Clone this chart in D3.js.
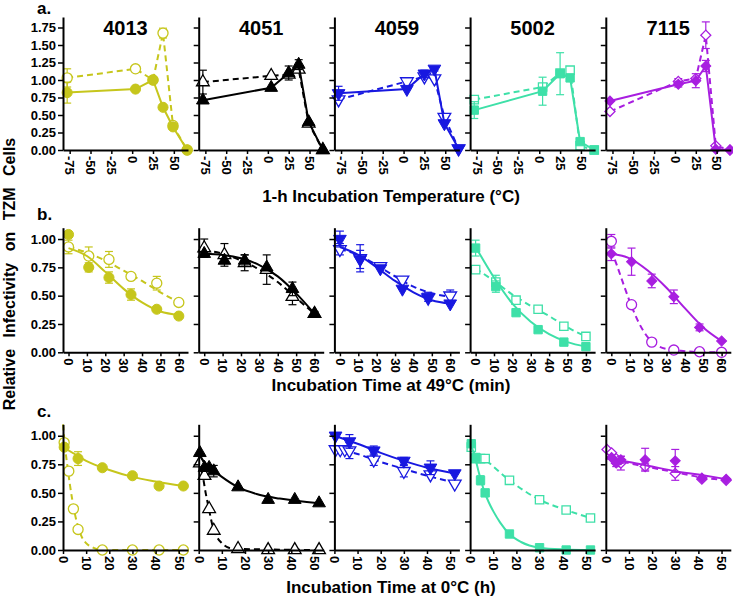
<!DOCTYPE html>
<html><head><meta charset="utf-8">
<script src="https://cdnjs.cloudflare.com/ajax/libs/d3/7.8.5/d3.min.js"></script>
<style>
body{margin:0;background:#fff}
text{font-family:"Liberation Sans",Arial,sans-serif;font-weight:bold;fill:#000}
</style>
</head><body>
<svg id="chart" width="733" height="599"></svg>
<script>
// ---------- DATA ----------
const strains = ["4013", "4051", "4059", "5002", "7115"];

// Row a: 1-h incubation temperature
const tempC = [-78, 4, 25, 37, 49, 66];
const tempTicks = [-75, -50, -25, 0, 25, 50];
const tempYTicks = [0, 0.25, 0.5, 0.75, 1, 1.25, 1.5, 1.75];
const tempFilled = [
  [0.82, 0.87, 1.00, 0.61, 0.33, 0.00],
  [0.71, 0.89, 1.10, 1.22, 0.40, 0.00],
  [0.81, 0.87, 1.09, 1.16, 0.38, 0.02],
  [0.57, 0.84, 1.09, 1.03, 0.12, 0.00],
  [0.70, 0.94, 0.99, 1.20, 0.01, 0.00]
];
const tempFilledErr = [
  [0.15, 0, 0.04, 0, 0, 0],
  [0, 0, 0.10, 0.07, 0, 0],
  [0.10, 0, 0.05, 0.03, 0, 0],
  [0.12, 0.20, 0.30, 0, 0, 0],
  [0, 0.04, 0.10, 0.08, 0, 0]
];
const tempOpen = [
  [1.03, 1.16, 1.00, 1.67, 0.35, 0.00],
  [0.97, 1.06, 1.08, 1.15, 0.38, 0.00],
  [0.72, 0.98, 1.05, 1.02, 0.47, 0.02],
  [0.72, 0.90, 1.10, 1.14, 0.06, 0.00],
  [0.55, 0.98, 1.02, 1.64, 0.06, 0.00]
];
const tempOpenErr = [
  [0.13, 0.02, 0, 0.07, 0, 0],
  [0.17, 0, 0, 0, 0, 0],
  [0, 0.05, 0, 0, 0, 0],
  [0.05, 0, 0, 0.05, 0, 0],
  [0, 0.04, 0, 0.19, 0, 0]
];

// Row b: incubation time at 49 °C (min)
const heatMin = [0, 11, 22, 34, 48, 60];
const heatTicks = [0, 10, 20, 30, 40, 50, 60];
const unitYTicks = [0, 0.25, 0.5, 0.75, 1];
const heatFilled = [
  [1.04, 0.75, 0.66, 0.51, 0.38, 0.32],
  [0.87, 0.81, 0.81, 0.75, 0.56, 0.34],
  [1.00, 0.82, 0.74, 0.56, 0.49, 0.43],
  [0.92, 0.58, 0.35, 0.20, 0.09, 0.05],
  [0.87, 0.80, 0.63, 0.49, 0.22, 0.10]
];
const heatFilledErr = [
  [0, 0.04, 0.05, 0.05, 0, 0],
  [0, 0, 0.05, 0, 0.06, 0],
  [0.07, 0.08, 0, 0, 0.04, 0],
  [0.07, 0.05, 0, 0, 0, 0],
  [0.06, 0.12, 0.06, 0.06, 0.03, 0]
];
const heatOpen = [
  [0.93, 0.85, 0.82, 0.67, 0.61, 0.44],
  [0.92, 0.86, 0.79, 0.73, 0.49, 0.34],
  [0.91, 0.83, 0.76, 0.64, 0.48, 0.50],
  [0.73, 0.62, 0.46, 0.38, 0.23, 0.14],
  [0.98, 0.42, 0.09, 0.02, 0.005, 0.00]
];
const heatOpenErr = [
  [0.06, 0.08, 0.07, 0, 0.06, 0],
  [0.08, 0.10, 0.07, 0.13, 0.07, 0.02],
  [0.05, 0.12, 0, 0, 0, 0.05],
  [0.03, 0.06, 0, 0, 0, 0],
  [0.06, 0, 0, 0, 0, 0]
];
const heatFilledFit = [
  [[0,0.92],[10,0.85],[20,0.71],[30,0.56],[40,0.44],[50,0.36],[60,0.33]],
  [[0,0.87],[10,0.86],[20,0.83],[30,0.77],[40,0.67],[50,0.52],[60,0.34]],
  [[0,0.93],[10,0.86],[20,0.75],[30,0.63],[40,0.53],[50,0.46],[60,0.43]],
  [[0,0.93],[10,0.66],[20,0.43],[30,0.27],[40,0.16],[50,0.09],[60,0.05]],
  [[0,0.87],[10,0.83],[20,0.72],[30,0.57],[40,0.39],[50,0.22],[60,0.10]]
];
const heatOpenFit = [
  [[0,0.93],[10,0.88],[20,0.81],[30,0.72],[40,0.63],[50,0.53],[60,0.44]],
  [[0,0.90],[10,0.87],[20,0.81],[30,0.73],[40,0.62],[50,0.48],[60,0.34]],
  [[0,0.91],[10,0.86],[20,0.77],[30,0.67],[40,0.58],[50,0.52],[60,0.49]],
  [[0,0.74],[10,0.63],[20,0.51],[30,0.41],[40,0.32],[50,0.22],[60,0.14]],
  [[0,0.90],[3,0.77],[6,0.63],[10,0.45],[15,0.26],[20,0.13],[25,0.06],[30,0.03],[40,0.01],[50,0],[60,0]]
];

// Row c: incubation time at 0 °C (h)
const coldH = [0.5, 2.5, 4.5, 6.5, 17, 30, 41.5, 52];
const coldTicks = [0, 10, 20, 30, 40, 50];
const coldFilled = [
  [0.90, null, null, 0.80, 0.72, 0.65, 0.56, 0.56],
  [0.85, 0.72, 0.72, 0.69, 0.55, 0.44, 0.44, 0.41],
  [1.00, null, null, 0.95, 0.87, 0.78, 0.72, 0.67],
  [0.93, 0.81, 0.61, 0.50, 0.14, 0.02, 0.00, 0.00],
  [null, 0.81, 0.76, 0.79, 0.79, 0.78, 0.63, 0.62]
];
const coldFilledErr = [
  [0, 0, 0, 0.06, 0, 0, 0, 0],
  [0, 0, 0, 0.05, 0, 0, 0, 0],
  [0, 0, 0, 0.06, 0.04, 0.03, 0.06, 0],
  [0, 0, 0.04, 0, 0, 0, 0, 0],
  [0, 0, 0.03, 0.03, 0.10, 0.10, 0, 0]
];
const coldOpen = [
  [0.94, 0.69, 0.36, 0.18, 0.00, 0.00, 0.00, 0.00],
  [0.76, 0.65, 0.36, 0.17, 0.01, 0.00, 0.00, 0.00],
  [0.88, 0.88, 0.88, 0.87, 0.79, 0.69, 0.66, 0.58],
  [0.90, 0.80, 0.80, 0.80, 0.61, 0.44, 0.35, 0.28],
  [0.88, 0.85, 0.80, 0.76, 0.73, 0.67, 0.62, 0.61]
];
const coldOpenErr = [
  [0, 0, 0, 0, 0, 0, 0, 0],
  [0, 0, 0, 0, 0, 0, 0, 0],
  [0, 0, 0, 0.07, 0.05, 0.05, 0, 0],
  [0, 0, 0, 0, 0, 0, 0, 0],
  [0, 0, 0, 0.06, 0.03, 0.06, 0, 0]
];
const coldFilledFit = [
  [[0,0.90],[5,0.84],[10,0.78],[20,0.70],[30,0.64],[40,0.60],[52,0.56]],
  [[0,0.85],[2,0.78],[5,0.72],[10,0.64],[17,0.55],[25,0.49],[35,0.45],[52,0.41]],
  [[0,1.00],[10,0.93],[20,0.85],[30,0.78],[40,0.72],[52,0.67]],
  [[0,0.94],[2,0.82],[4,0.66],[6,0.52],[8,0.42],[10,0.34],[13,0.24],[17,0.14],[22,0.07],[30,0.02],[40,0.005],[52,0]],
  [[0,0.80],[10,0.77],[20,0.73],[30,0.69],[40,0.66],[52,0.62]]
];
const coldOpenFit = [
  [[0,1.10],[1,0.88],[2,0.72],[3,0.57],[4,0.44],[5,0.33],[6,0.24],[8,0.12],[10,0.06],[13,0.02],[17,0],[52,0]],
  [[0,0.78],[1,0.72],[2,0.62],[3,0.50],[4,0.40],[5,0.30],[6,0.21],[8,0.11],[10,0.06],[13,0.02],[17,0.01],[52,0]],
  [[0,0.89],[10,0.84],[20,0.77],[30,0.71],[40,0.65],[52,0.59]],
  [[0,0.88],[6.5,0.79],[17,0.61],[30,0.44],[41.5,0.35],[52,0.28]],
  [[0,0.86],[3,0.81],[6,0.78],[10,0.76],[20,0.72],[30,0.68],[40,0.64],[52,0.61]]
];

// ---------- STYLE ----------
const colors = ["#c6c61c", "#000000", "#1818e0", "#3ee0a8", "#a81ee0"];
const symbolTypes = [d3.symbolCircle, d3.symbolTriangle, d3.symbolTriangle, d3.symbolSquare, d3.symbolSquare];
const symbolRot = [0, 0, 180, 0, 45];
const symbolSize = [80, 70, 70, 70, 50];

const svg = d3.select("#chart");
const PX0 = 63, PSTEP = 135.7, PW = 125;

const rows = [
  {key:"a", x:tempC, filled:tempFilled, fErr:tempFilledErr, open:tempOpen, oErr:tempOpenErr,
   xDomain:[-83, 67], yDomain:[0, 1.9], yRange:[150, 17], xTicks:tempTicks, yTicks:tempYTicks,
   title:"1-h Incubation Temperature (\u00B0C)", titleY:202, letterY:14},
  {key:"b", x:heatMin, filled:heatFilled, fErr:heatFilledErr, open:heatOpen, oErr:heatOpenErr,
   fFit:heatFilledFit, oFit:heatOpenFit, openCircle:[4],
   xDomain:[-3, 65], yDomain:[0, 1.1], yRange:[352.3, 227.7], xTicks:heatTicks, yTicks:unitYTicks,
   title:"Incubation Time at 49\u00B0C (min)", titleY:391, letterY:220},
  {key:"c", x:coldH, filled:coldFilled, fErr:coldFilledErr, open:coldOpen, oErr:coldOpenErr,
   fFit:coldFilledFit, oFit:coldOpenFit,
   xDomain:[0, 54], yDomain:[0, 1.1], yRange:[550, 424.3], xTicks:coldTicks, yTicks:unitYTicks,
   title:"Incubation Time at 0\u00B0C (h)", titleY:593, letterY:417}
];

function drawSeries(g, x, y, xs, ys, errs, fit, color, si, open, forceCircle) {
  const dash = open ? "6,4" : null;
  const line = d3.line().x(d => x(d[0])).y(d => y(d[1]));
  let pts;
  if (fit) { line.curve(d3.curveMonotoneX); pts = fit; }
  else { pts = xs.map((v, j) => [v, ys[j]]).filter(d => d[1] != null); }
  g.append("path").attr("d", line(pts)).attr("fill", "none")
    .attr("stroke", color).attr("stroke-width", 2).attr("stroke-dasharray", dash);
  xs.forEach((v, j) => {
    const val = ys[j], e = errs[j];
    if (val == null || !e) return;
    const cx = x(v);
    const eg = g.append("g").attr("stroke", color).attr("stroke-width", 1.2);
    eg.append("line").attr("x1", cx).attr("x2", cx).attr("y1", y(val - e)).attr("y2", y(val + e));
    eg.append("line").attr("x1", cx - 4).attr("x2", cx + 4).attr("y1", y(val - e)).attr("y2", y(val - e));
    eg.append("line").attr("x1", cx - 4).attr("x2", cx + 4).attr("y1", y(val + e)).attr("y2", y(val + e));
  });
  const type = forceCircle ? d3.symbolCircle : symbolTypes[si];
  const rot = forceCircle ? 0 : symbolRot[si];
  const size = forceCircle ? symbolSize[0] : symbolSize[si];
  const sym = d3.symbol().type(type).size(size);
  xs.forEach((v, j) => {
    const val = ys[j];
    if (val == null) return;
    g.append("path").attr("d", sym())
      .attr("transform", `translate(${x(v)},${y(val)}) rotate(${rot})`)
      .attr("fill", open ? "#fff" : color)
      .attr("stroke", color).attr("stroke-width", open ? 1.3 : 1);
  });
}

rows.forEach(row => {
  strains.forEach((name, i) => {
    const x0 = PX0 + i * PSTEP;
    const x = d3.scaleLinear().domain(row.xDomain).range([x0, x0 + PW]);
    const y = d3.scaleLinear().domain(row.yDomain).range(row.yRange);
    const g = svg.append("g");
    const circ = (row.openCircle || []).includes(i);

    drawSeries(g, x, y, row.x, row.open[i], row.oErr[i], row.oFit ? row.oFit[i] : null, colors[i], i, true, circ);
    drawSeries(g, x, y, row.x, row.filled[i], row.fErr[i], row.fFit ? row.fFit[i] : null, colors[i], i, false, false);

    const gx = svg.append("g").attr("transform", `translate(0,${row.yRange[0]})`)
      .call(d3.axisBottom(x).tickValues(row.xTicks).tickSize(4).tickSizeOuter(0).tickFormat(d => String(d)));
    gx.selectAll("text").attr("transform", "rotate(90)").attr("y", 0).attr("x", 6)
      .attr("dy", "0.36em").style("text-anchor", "start").style("font-size", "13px");
    const gy = svg.append("g").attr("transform", `translate(${x0},0)`)
      .call(d3.axisLeft(y).tickValues(row.yTicks).tickSize(5).tickSizeOuter(0).tickPadding(2)
        .tickFormat(i === 0 ? d3.format(".2f") : () => ""));
    gy.selectAll("text").style("font-size", "13px");
    [gx, gy].forEach(a => {
      a.select(".domain").attr("stroke", "#000").attr("stroke-width", 2);
      a.selectAll(".tick line").attr("stroke", "#000").attr("stroke-width", 1.5);
      a.attr("font-family", null).attr("font-size", null);
    });

    if (row.key === "a") {
      svg.append("text").attr("x", x0 + PW / 2).attr("y", 35).attr("text-anchor", "middle")
        .style("font-size", "20px").text(name);
    }
  });
  svg.append("text").attr("x", 391).attr("y", row.titleY).attr("text-anchor", "middle")
    .style("font-size", "17px").text(row.title);
  svg.append("text").attr("x", 37).attr("y", row.letterY).style("font-size", "17px").text(row.key + ".");
});

svg.append("text").attr("transform", "translate(15,274) rotate(-90)").attr("text-anchor", "middle")
  .style("font-size", "16px").style("word-spacing", "7px").text("Relative Infectivity on TZM Cells");
</script>
</body></html>
